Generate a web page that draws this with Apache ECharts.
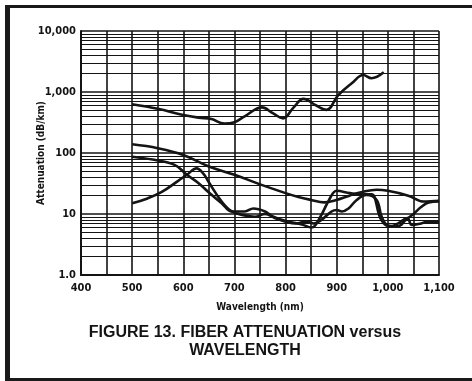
<!DOCTYPE html>
<html>
<head>
<meta charset="utf-8">
<script src="https://cdn.jsdelivr.net/npm/echarts@6/dist/echarts.min.js"></script>
<style>
  html, body { margin: 0; background: #fff; overflow: hidden; }
  #wrap { position: relative; width: 472px; height: 381px; overflow: hidden; }
  #chart { width: 472px; height: 381px; }
  #frame { position: absolute; left: 5px; top: 5px; width: 463px; height: 370px;
           border-left: 5px solid #1a1a1a; border-top: 3px solid #1a1a1a; border-bottom: 3px solid #1a1a1a; pointer-events: none; }
</style>
</head>
<body>
<div id="wrap">
  <div id="chart"></div>
  <div id="frame"></div>
</div>
<script>
// wavelength (nm) / attenuation (dB/km)
var curveTop = [[500,630],[550,530],[600,420],[630,380],[655,360],[680,305],[700,320],[720,400],[754,560],[775,450],[795,370],[815,550],[835,770],[860,600],[880,510],[903,890],[930,1400],[952,1900],[968,1680],[992,2100]];
var curveA = [[500,139],[550,120],[600,93],[650,60],[700,44],[753,30],[800,22],[825,19],[850,17],[875,15.5],[900,17],[925,20],[950,23],[978,25],[1000,24],[1040,20],[1070,16],[1100,16.5]];
var curveB = [[500,87],[540,78],[583,64],[607,44],[630,32],[649,23],[675,15],[695,11],[720,11],[737,12.3],[760,11],[776,9],[802,7.6],[830,6.8],[851,6],[868,9],[885,17],[900,24],[926,22],[952,21],[968,21],[987,8],[1005,6.2],[1020,7],[1038,8.6],[1047,6.6],[1065,7],[1080,7.5],[1100,7.5]];
var curveC = [[500,15],[530,18],[558,23],[590,35],[607,44],[626,56],[640,45],[649,34],[675,16],[695,11],[720,9.5],[740,9],[760,10],[780,8.5],[800,7.5],[820,7],[840,7.5],[855,7],[870,8],[890,11],[900,11.6],[910,11],[923,12.3],[939,17],[958,20.5],[978,17],[988,9],[1000,6.5],[1020,6.3],[1035,8],[1050,10],[1065,13],[1080,15.5],[1100,16]];

var xTicks = {400:'400',500:'500',600:'600',700:'700',800:'800',900:'900',1000:'1,000',1100:'1,100'};
var yTicks = {1:'1.0',10:'10',100:'100',1000:'1,000',10000:'10,000'};

var labelFont = "'Liberation Sans Narrow','DejaVu Sans Condensed',sans-serif";
var ink = '#141414';

function curve(data) {
    return {
        type: 'line',
        data: data,
        smooth: 0.4,
        showSymbol: false,
        lineStyle: { color: ink, width: 2.6 },
        silent: true
    };
}

var option = {
    animation: false,
    backgroundColor: '#fff',
    title: {
        text: 'FIGURE 13. FIBER ATTENUATION versus\nWAVELENGTH',
        left: 240,
        textAlign: 'center',
        top: 319,
        textStyle: {
            fontFamily: "'Liberation Sans',Arial,sans-serif",
            fontWeight: 'bold',
            fontSize: 16,
            lineHeight: 18,
            color: ink,
            align: 'center'
        }
    },
    grid: { left: 81, right: 33, top: 31, bottom: 106 },
    xAxis: {
        type: 'value',
        min: 400,
        max: 1100,
        interval: 100,
        name: 'Wavelength (nm)',
        nameLocation: 'middle',
        nameGap: 27,
        nameMoveOverlap: false,
        nameTextStyle: { fontFamily: labelFont, fontWeight: 'bold', fontSize: 10, color: ink },
        axisLine: { lineStyle: { color: ink, width: 2 } },
        axisTick: { show: false },
        axisLabel: {
            margin: 8,
            fontFamily: labelFont, fontWeight: 'bold', fontSize: 11, color: ink,
            formatter: function (v) { return xTicks[v] || ''; }
        },
        splitLine: { show: true, lineStyle: { color: ink, width: 1.6 } },
        minorTick: { show: false, splitNumber: 2 },
        minorSplitLine: { show: true, lineStyle: { color: ink, width: 1.6 } }
    },
    yAxis: {
        type: 'log',
        logBase: 10,
        min: 1,
        max: 10000,
        name: 'Attenuation (dB/km)',
        nameLocation: 'middle',
        nameGap: 35,
        nameMoveOverlap: false,
        nameTextStyle: { fontFamily: labelFont, fontWeight: 'bold', fontSize: 10, color: ink },
        axisLine: { show: true, lineStyle: { color: ink, width: 2 } },
        axisTick: { show: false },
        axisLabel: {
            margin: 5,
            fontFamily: labelFont, fontWeight: 'bold', fontSize: 11, color: ink,
            formatter: function (v) { return yTicks[v] || ''; }
        },
        splitLine: { show: true, lineStyle: { color: ink, width: 1.6 } },
        minorTick: { show: false, splitNumber: 9 },
        minorSplitLine: { show: true, lineStyle: { color: ink, width: 1.2 } }
    },
    series: [curve(curveTop), curve(curveA), curve(curveB), curve(curveC)]
};

var chart = echarts.init(document.getElementById('chart'));
chart.setOption(option);
</script>
</body>
</html>
